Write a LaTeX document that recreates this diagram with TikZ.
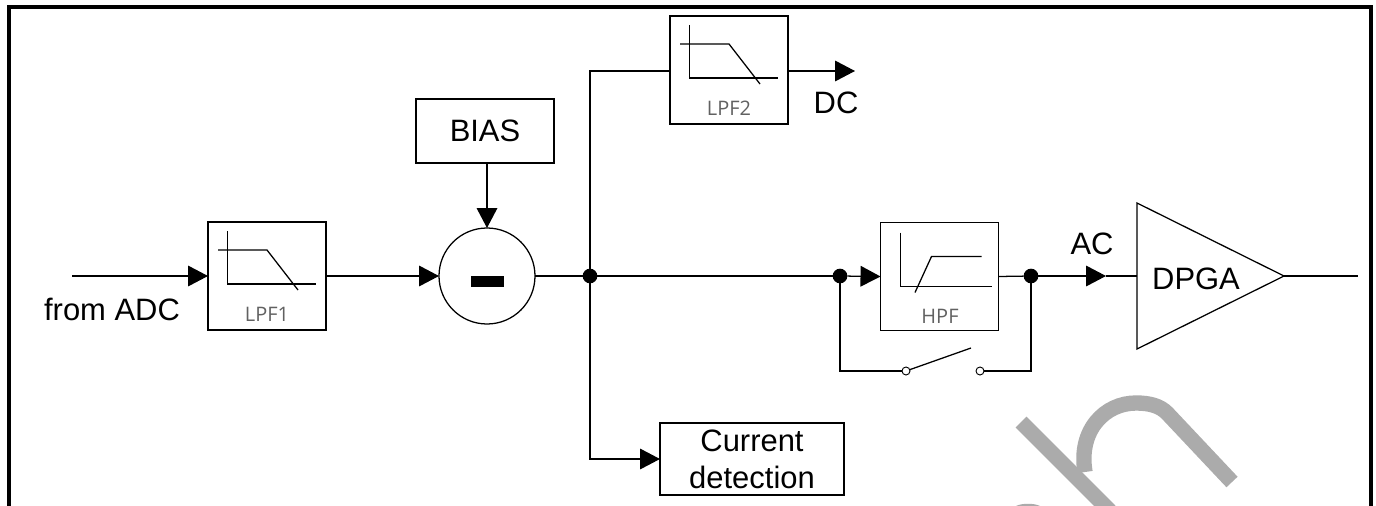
\documentclass[tikz,border=0pt]{standalone}
\usepackage{fontspec}
\setmainfont{Liberation Sans}
\newfontfamily\thinlabel{Open Sans}
\usetikzlibrary{arrows.meta}
\tikzset{
  conn/.style={line width=0.95pt,draw=black},
  arrowed/.style={conn,-{Triangle[length=15pt,width=15.5pt,fill=black]}},
  box/.style={draw=black,line width=0.95pt,fill=none,inner sep=0pt,outer sep=0pt,align=center,
    font=\fontsize{23.2}{27.75}\selectfont},
  lpfbox/.style={box,minimum width=88.5pt,minimum height=81pt},
  dot/.style={circle,fill=black,inner sep=0pt,outer sep=0pt,minimum size=11pt},
  contact/.style={circle,draw=black,line width=0.7pt,fill=white,inner sep=0pt,outer sep=0pt,minimum size=6pt},
  txt/.style={inner sep=0pt,outer sep=0pt,font=\fontsize{23.2}{27}\selectfont},
  filterlabel/.style={inner sep=0pt,outer sep=0pt,text=black!62,font=\thinlabel\fontsize{15}{17}\selectfont},
  iconline/.style={line width=0.95pt,draw=black},
  lowpass/.pic={
    \draw[iconline] (19.5,9) -- (19.5,62) -- (108,62);
    \draw[iconline] (10,28) -- (59,28) -- (90,68);
  },
  highpass/.pic={
    \draw[iconline] (20,10) -- (20,64) -- (111,64);
    \draw[iconline] (34.5,70) -- (51,34) -- (101,34);
  },
  watermark/.style={draw=black!33,line width=11.5pt}
}
\begin{document}
\begin{tikzpicture}[x=0.75pt,y=-0.75pt]
\useasboundingbox (0,0) rectangle (1376,506);
% watermark
\begin{scope}
\clip (0,0) rectangle (1376,506);
\draw[watermark] (1021,422) -- (1110,511);
\draw[watermark] (1085,472) .. controls (1078,430) and (1105,403) .. (1136,403) .. controls (1150,403) and (1160,406) .. (1167,413) -- (1232,482);
\fill[black!33] (1016,506) .. controls (1022,503) and (1034,503) .. (1040,506) -- cycle;
\end{scope}
% frame
\draw[line width=3pt,black] (9,506) -- (9,7) -- (1371,7) -- (1371,506);
% blocks
\node[lpfbox] (lpf1) at (267,276) {};
\node[lpfbox] (lpf2) at (729,70) {};
\node[lpfbox] (hpf) at (939.5,276.5) {};
\node[box,minimum width=103.5pt,minimum height=48pt] (bias) at (485,131) {BIAS};
\node[box,minimum width=138pt,minimum height=54pt] (cur) at (752,459) {Current\\detection};
\node[draw=black,line width=0.95pt,circle,minimum size=72pt,inner sep=0pt,outer sep=0pt] (sub) at (487,276) {};
\fill[black] (471,276) rectangle (504,287);
\draw[black,line width=0.95pt] (1137,203) -- (1284,276) -- (1137,349) -- cycle;
\node[txt] (dpga) at (1196,279) {DPGA};
\coordinate (ampin) at (1137,276);
\coordinate (ampout) at (1284,276);
% icons
\pic at (lpf1.north west) {lowpass};
\pic at (lpf2.north west) {lowpass};
\pic at (hpf.north west) {highpass};
\node[filterlabel] (l1) at (267,314) {LPF1};
\node[filterlabel] (l2) at (729,108) {LPF2};
\node[filterlabel] (l3) at (940,316) {HPF};
% junctions
\node[dot] (j1) at (590,276) {};
\node[dot] (j2) at (840,276) {};
\node[dot] (j3) at (1031,276) {};
\node[contact] (c1) at (906,371) {};
\node[contact] (c2) at (980,371) {};
\coordinate (in) at (72,276);
\coordinate (out) at (1358,276);
\coordinate (dcout) at (855,71);
\coordinate (acmid) at (1106,276);
\coordinate (arm) at (971,348);
\coordinate (bend1) at (590,71);
\coordinate (bend2) at (590,459);
% connectors
\draw[arrowed] (in) -- (lpf1.west);
\draw[arrowed] (lpf1.east) -- (sub.west);
\draw[arrowed] (bias.south -| sub) -- (sub.north);
\draw[conn] (sub.east) -- (j1);
\draw[conn] (j1) -- (j2);
\draw[arrowed] (j2) -- (hpf.west);
\draw[conn] (hpf.east) -- (j3);
\draw[arrowed] (j3) -- (acmid);
\draw[conn] (acmid) -- (ampin);
\draw[conn] (ampout) -- (out);
\draw[conn] (j1) -- (bend1) -- (bend1 -| lpf2.west);
\draw[arrowed] (bend1 -| lpf2.east) -- (dcout);
\draw[arrowed] (j1) -- (bend2) -- (cur.west);
\draw[conn] (j2) |- (c1);
\draw[conn] (j3) |- (c2);
\draw[conn] (c1) -- (arm);
% labels
\node[txt] (from) at (112,309) {from ADC};
\node[txt] (dc) at (836,103) {DC};
\node[txt] (ac) at (1092,244) {AC};
\end{tikzpicture}
\end{document}
